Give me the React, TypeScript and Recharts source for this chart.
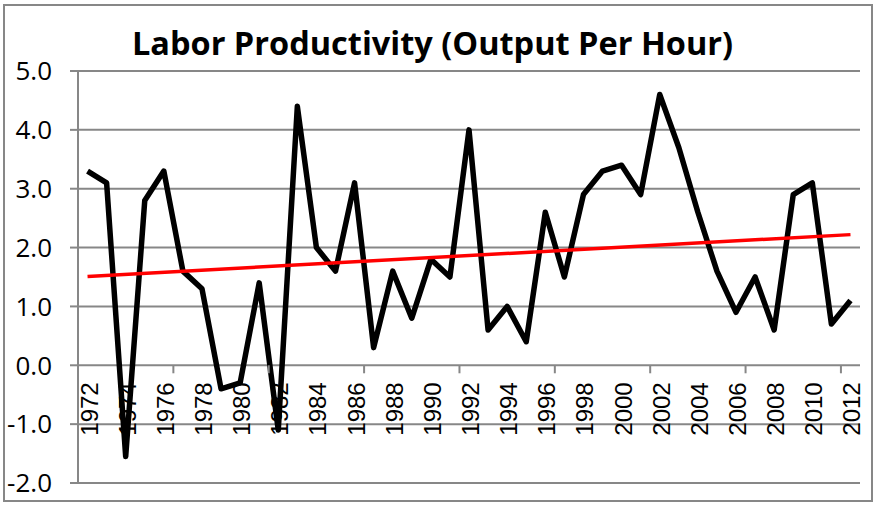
import React from 'react';
import { LineChart, Line, XAxis, YAxis, CartesianGrid, ReferenceLine } from 'recharts';

const YEARS = [
  1972, 1973, 1974, 1975, 1976, 1977, 1978, 1979, 1980, 1981,
  1982, 1983, 1984, 1985, 1986, 1987, 1988, 1989, 1990, 1991,
  1992, 1993, 1994, 1995, 1996, 1997, 1998, 1999, 2000, 2001,
  2002, 2003, 2004, 2005, 2006, 2007, 2008, 2009, 2010, 2011, 2012,
];

const PRODUCTIVITY = [
  3.3, 3.1, -1.55, 2.8, 3.3, 1.6, 1.3, -0.4, -0.3, 1.4,
  -1.1, 4.4, 2.0, 1.6, 3.1, 0.3, 1.6, 0.8, 1.8, 1.5,
  4.0, 0.6, 1.0, 0.4, 2.6, 1.5, 2.9, 3.3, 3.4, 2.9,
  4.6, 3.7, 2.6, 1.6, 0.9, 1.5, 0.6, 2.9, 3.1, 0.7, 1.1,
];

// linear trendline end values
const TREND_START = 1.51;
const TREND_END = 2.22;

const Y_TICKS = [-2, -1, 0, 1, 2, 3, 4, 5];

const W = 878;
const H = 507;
const MARGIN = { top: 71, right: 18, bottom: 23, left: 0 };
const Y_AXIS_W = 78;
const X_AXIS_H = 1;
const PLOT_W = W - MARGIN.left - MARGIN.right - Y_AXIS_W;
const PLOT_H = H - MARGIN.top - MARGIN.bottom - X_AXIS_H;
const Y_MIN = -2;
const Y_MAX = 5;
const GRID = '#878787';

const data = YEARS.map((year, i) => ({ year, value: PRODUCTIVITY[i] }));

// x labels sit on the zero line, not at the bottom of the plot
const YearTick = (props: any) => {
  const { x, y, index, payload } = props;
  const zeroY = y - (PLOT_H * (0 - Y_MIN)) / (Y_MAX - Y_MIN);
  const band = PLOT_W / YEARS.length;
  const tx = x + 10;
  const ty = zeroY + 17;
  return (
    <g>
      {index % 5 === 0 && index > 0 && (
        <line x1={x - band / 2} x2={x - band / 2} y1={zeroY} y2={zeroY + 8} stroke={GRID} strokeWidth={2} />
      )}
      {index % 2 === 0 && (
        <text
          x={tx}
          y={ty}
          transform={`rotate(-90, ${tx}, ${ty})`}
          textAnchor="end"
          fontFamily="'Liberation Sans', Arial, sans-serif"
          fontSize={24}
          fill="#000"
        >
          {payload.value}
        </text>
      )}
    </g>
  );
};

export default function App() {
  return (
    <div style={{ position: 'absolute', left: 0, top: 0, width: W, height: H, background: '#fff' }}>
      <div
        style={{
          position: 'absolute',
          left: 3,
          top: 4,
          width: 866,
          height: 494,
          border: `2px solid ${GRID}`,
        }}
      />
      <div
        style={{
          position: 'absolute',
          left: 0,
          top: 27,
          width: 865,
          textAlign: 'center',
          fontFamily: "'Open Sans', sans-serif",
          fontWeight: 700,
          fontSize: 32.5,
          lineHeight: 1,
          color: '#000',
        }}
      >
        Labor Productivity (Output Per Hour)
      </div>
      <div style={{ position: 'absolute', left: 0, top: 0 }}>
        <LineChart width={W} height={H} data={data} margin={MARGIN}>
          <CartesianGrid vertical={false} stroke={GRID} strokeWidth={2} />
          <XAxis
            dataKey="year"
            type="category"
            scale="band"
            interval={0}
            height={X_AXIS_H}
            axisLine={false}
            tickLine={false}
            tickSize={0}
            tickMargin={0}
            tick={<YearTick />}
          />
          <YAxis
            width={Y_AXIS_W}
            domain={[Y_MIN, Y_MAX]}
            ticks={Y_TICKS}
            interval={0}
            tickFormatter={(v: number) => v.toFixed(1)}
            axisLine={{ stroke: GRID, strokeWidth: 2 }}
            tickLine={{ stroke: GRID, strokeWidth: 2 }}
            tickSize={8}
            tickMargin={18}
            tick={{ fill: '#000', fontSize: 26, fontFamily: "'Open Sans', sans-serif" }}
          />
          <Line
            dataKey="value"
            stroke="#000"
            strokeWidth={5.5}
            strokeLinejoin="round"
            dot={false}
            activeDot={false}
            isAnimationActive={false}
          />
          <ReferenceLine
            segment={[
              { x: YEARS[0], y: TREND_START },
              { x: YEARS[YEARS.length - 1], y: TREND_END },
            ]}
            stroke="#ff0000"
            strokeWidth={3.5}
          />
        </LineChart>
      </div>
    </div>
  );
}
